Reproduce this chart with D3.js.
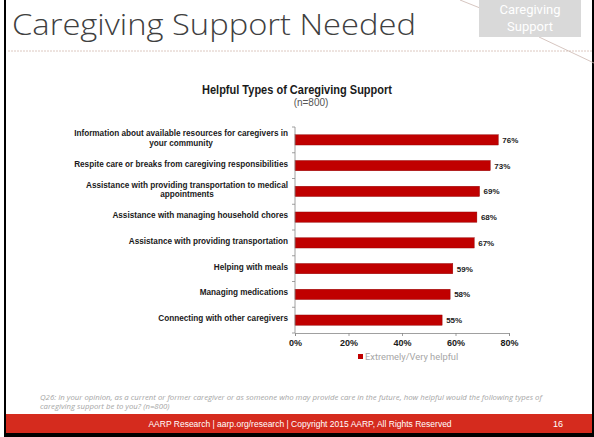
<!DOCTYPE html>
<html>
<head>
<meta charset="utf-8">
<script src="https://cdn.jsdelivr.net/npm/d3@7"></script>
<style>
  html, body { margin: 0; padding: 0; background: #fff; }
  svg { display: block; }
</style>
</head>
<body>
<svg id="chart" width="594" height="437"></svg>
<script>
// chart values
var categories = [
  "Information about available resources for caregivers in\nyour community",
  "Respite care or breaks from caregiving responsibilities",
  "Assistance with providing transportation to medical\nappointments",
  "Assistance with managing household chores",
  "Assistance with providing transportation",
  "Helping with meals",
  "Managing medications",
  "Connecting with other caregivers"
];
var values = [76, 73, 69, 68, 67, 59, 58, 55];
var xTicks = [0, 20, 40, 60, 80];
var seriesName = "Extremely/Very helpful";

var slideTitle = "Caregiving Support Needed";
var tagLines = ["Caregiving", "Support"];
var chartTitle = "Helpful Types of Caregiving Support";
var chartSub = "(n=800)";
var footnote = [
  "Q26:  In your opinion, as a current or former caregiver or as someone who may provide care in the future, how helpful would the following types of",
  "caregiving support be to you? (n=800)"
];
var footer = "AARP Research | aarp.org/research | Copyright 2015 AARP, All Rights Reserved";
var pageNum = "16";

var svg = d3.select("#chart");
var labelFont = "'Liberation Sans Narrow', 'Liberation Sans', Arial, sans-serif";

// slide frame
svg.append("rect").attr("x", 4).attr("y", 0).attr("width", 2).attr("height", 437).attr("fill", "#000");
svg.append("rect").attr("x", 592).attr("y", 0).attr("width", 2).attr("height", 437).attr("fill", "#000");
svg.append("rect").attr("x", 4).attr("y", 433).attr("width", 590).attr("height", 4).attr("fill", "#000");

// slide title
svg.append("text")
    .attr("x", 12).attr("y", 35)
    .attr("font-family", "'Open Sans', 'DejaVu Sans', sans-serif")
    .attr("font-weight", 300)
    .attr("font-size", 30)
    .attr("fill", "#404040")
    .attr("textLength", 404)
    .attr("lengthAdjust", "spacingAndGlyphs")
    .text(slideTitle);

svg.append("line")
    .attr("x1", 8).attr("x2", 592).attr("y1", 51).attr("y2", 51)
    .attr("stroke", "#dcc8c0").attr("stroke-width", 1)
    .attr("stroke-dasharray", "2,1");

// tag box with connector lines
svg.append("line").attr("x1", 460).attr("y1", 0).attr("x2", 480).attr("y2", 8)
    .attr("stroke", "#cbb8b0").attr("stroke-width", 0.8);
svg.append("line").attr("x1", 539).attr("y1", 37).attr("x2", 594).attr("y2", 63)
    .attr("stroke", "#cbb8b0").attr("stroke-width", 0.8);
svg.append("rect").attr("x", 479).attr("y", 0).attr("width", 102).attr("height", 37).attr("fill", "#d9d9d9");
svg.selectAll(".tag").data(tagLines).enter().append("text")
    .attr("x", 530).attr("y", function(d, i) { return 14 + i * 17; })
    .attr("text-anchor", "middle")
    .attr("font-family", "Roboto, 'Liberation Sans', sans-serif")
    .attr("font-size", 13)
    .attr("fill", "#fff")
    .text(function(d) { return d; });

// chart title
svg.append("text")
    .attr("x", 297).attr("y", 94)
    .attr("text-anchor", "middle")
    .attr("font-family", labelFont)
    .attr("font-weight", "bold")
    .attr("font-size", 13)
    .attr("fill", "#1a1a1a")
    .attr("textLength", 190)
    .attr("lengthAdjust", "spacingAndGlyphs")
    .text(chartTitle);
svg.append("text")
    .attr("x", 311).attr("y", 106)
    .attr("text-anchor", "middle")
    .attr("font-family", labelFont)
    .attr("font-size", 10)
    .attr("fill", "#555")
    .text(chartSub);

// scales
var x = d3.scaleLinear().domain([0, 80]).range([295, 509]);
var y = d3.scaleBand().domain(categories).range([127, 333]).paddingInner(0.6).paddingOuter(0.3);
var step = y.step();

// bars
svg.selectAll(".bar").data(values).enter().append("rect")
    .attr("x", x(0))
    .attr("y", function(d, i) { return y(categories[i]); })
    .attr("width", function(d) { return x(d) - x(0); })
    .attr("height", y.bandwidth())
    .attr("fill", "#c00000")
    .attr("stroke", "#8c0000")
    .attr("stroke-width", 0.4);

// value labels
svg.selectAll(".val").data(values).enter().append("text")
    .attr("x", function(d) { return x(d) + 4; })
    .attr("y", function(d, i) { return y(categories[i]) + y.bandwidth() / 2 + 3; })
    .attr("font-family", labelFont)
    .attr("font-weight", "bold")
    .attr("font-size", 8)
    .attr("fill", "#1a1a1a")
    .text(function(d) { return d + "%"; });

// category labels
var lab = svg.selectAll(".cat").data(categories).enter().append("text")
    .attr("font-family", labelFont)
    .attr("font-weight", "bold")
    .attr("font-size", 8.2)
    .attr("fill", "#1a1a1a")
    .attr("text-anchor", "end");
lab.each(function(d) {
  var lines = d.split("\n");
  var cy = y(d) + y.bandwidth() / 2;
  var t = d3.select(this);
  if (lines.length === 1) {
    t.append("tspan").attr("x", 288).attr("y", cy + 1).text(lines[0]);
  } else {
    var first = t.append("tspan").attr("x", 288).attr("y", cy - 3.5).text(lines[0]);
    var w = first.node().getComputedTextLength();
    t.append("tspan").attr("x", 288 - w / 2).attr("y", cy + 6)
        .attr("text-anchor", "middle").text(lines[1]);
  }
});

// left axis with ticks between categories
var yAxis = svg.append("g");
yAxis.append("line").attr("x1", x(0)).attr("x2", x(0)).attr("y1", 127).attr("y2", 333)
    .attr("stroke", "#888").attr("stroke-width", 0.8);
yAxis.selectAll("line.tk").data(d3.range(categories.length + 1)).enter().append("line")
    .attr("x1", x(0) - 3).attr("x2", x(0))
    .attr("y1", function(i) { return 127 + i * step; })
    .attr("y2", function(i) { return 127 + i * step; })
    .attr("stroke", "#888").attr("stroke-width", 0.8);

// bottom axis
var xAxis = svg.append("g")
    .attr("transform", "translate(0,333)")
    .call(d3.axisBottom(x).tickValues(xTicks).tickSize(3).tickFormat(function(d) { return d + "%"; }));
xAxis.select(".domain").attr("stroke", "#888").attr("stroke-width", 0.8);
xAxis.selectAll(".tick line").attr("stroke", "#888").attr("stroke-width", 0.8);
xAxis.selectAll(".tick text")
    .attr("y", 7)
    .attr("font-family", labelFont)
    .attr("font-weight", "bold")
    .attr("font-size", 9)
    .attr("fill", "#1a1a1a");

// legend
svg.append("rect").attr("x", 358).attr("y", 354).attr("width", 5).attr("height", 5).attr("fill", "#c00000");
svg.append("text")
    .attr("x", 365).attr("y", 359.5)
    .attr("font-family", "Roboto, 'Liberation Sans', sans-serif")
    .attr("font-size", 9.3)
    .attr("fill", "#a6a6a6")
    .text(seriesName);

// footnote
svg.selectAll(".fn").data(footnote).enter().append("text")
    .attr("x", 40).attr("y", function(d, i) { return 400 + i * 9; })
    .attr("font-family", "'Open Sans', 'Liberation Sans', sans-serif")
    .attr("font-style", "italic")
    .attr("font-size", 7.8)
    .attr("fill", "#a6a6a6")
    .text(function(d) { return d; });

// footer band
svg.append("rect").attr("x", 6).attr("y", 414).attr("width", 586).attr("height", 19).attr("fill", "#d52b1e");
svg.append("text")
    .attr("x", 300).attr("y", 427)
    .attr("text-anchor", "middle")
    .attr("font-family", labelFont)
    .attr("font-size", 8.5)
    .attr("fill", "#fff")
    .text(footer);
svg.append("text")
    .attr("x", 558).attr("y", 427)
    .attr("text-anchor", "middle")
    .attr("font-family", labelFont)
    .attr("font-size", 9)
    .attr("fill", "#fff")
    .text(pageNum);
</script>
</body>
</html>
